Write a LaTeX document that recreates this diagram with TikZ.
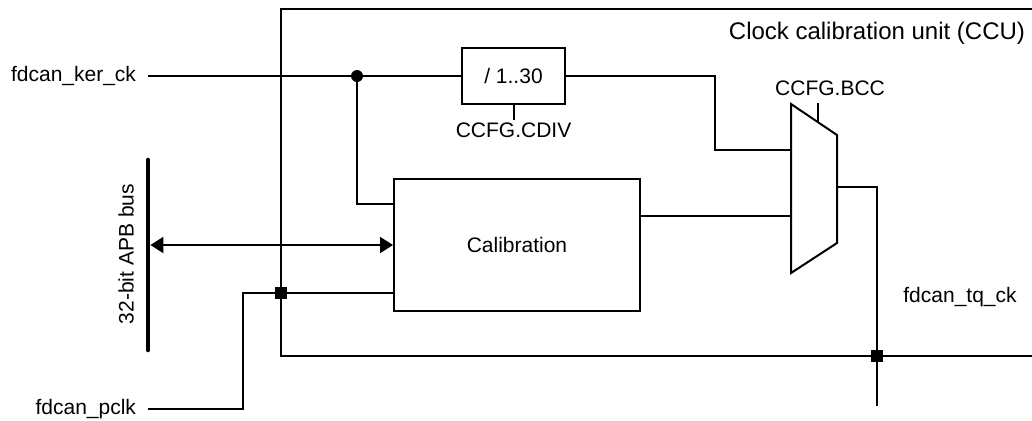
\documentclass[tikz,border=0pt]{standalone}
\usepackage{fontspec}
\setmainfont{Liberation Sans}
\usetikzlibrary{arrows.meta, positioning, calc}

\begin{document}
\begin{tikzpicture}[
        x=0.5pt, y=-0.5pt,
        line width=1pt,
        font=\fontsize{10.5}{12}\selectfont,
        box/.style={rectangle, draw, line width=1pt, inner sep=0pt},
        lbl/.style={inner sep=1pt},
        sig/.style={inner xsep=5.5pt, inner ysep=1pt},
        jdot/.style={circle, fill, inner sep=0pt, minimum size=6pt},
        jsq/.style={rectangle, fill, inner sep=0pt, minimum size=6pt},
        bus/.style={line width=2.3pt, line cap=round},
        both/.style={{Triangle[length=6.5pt, width=8pt]}-{Triangle[length=6.5pt, width=8pt]}}
    ]
        \useasboundingbox (0,0) rectangle (1032,420);

        % frame of the unit
        \draw (1040,9) -| (281,356) -- (1040,356);
        \node[lbl, anchor=east, font=\fontsize{12}{14}\selectfont] (ccu) at (1028,33) {Clock calibration unit (CCU)};

        \node[box, minimum width=51.5pt, minimum height=28pt] (div) at (513.5,76) {/ 1..30};
        \node[box, minimum width=123pt, minimum height=66pt] (cal) at (517,245) {Calibration};
        \node[lbl, below=7.5pt of div] (cdiv) {CCFG.CDIV};
        \draw (div.south) -- (cdiv.north);

        % mux
        \coordinate (mtl) at (791,104);
        \coordinate (mtr) at (837,135);
        \coordinate (mbr) at (837,243);
        \coordinate (mbl) at (791,273);
        \draw (mtl) -- (mtr) -- (mbr) -- (mbl) -- cycle;
        \coordinate (min0) at (791,150);
        \coordinate (min1) at (791,216);
        \coordinate (mout) at (837,187);
        \coordinate (msel) at ($(mtl)!0.587!(mtr)$);
        \node[lbl, anchor=south] (bcc) at (830,99) {CCFG.BCC};
        \draw (msel) -- ++(0,-19);

        % clock inputs
        \node[sig, anchor=east] (ker) at (148,76) {fdcan\_ker\_ck};
        \draw (ker.east) -- (div.west);
        \node[jdot] (kdot) at (357,76) {};
        \draw (kdot.center) |- ($(cal.north west)+(0,26)$);
        \draw (div.east) -- ++(149,0) |- (min0);
        \draw (cal.east |- min1) -- (min1);

        % output
        \coordinate (tqend) at (877,406);
        \draw (mout) -| (tqend);
        \node[jsq] (jtq) at (877,356) {};
        \node (tq) at (960,297) {fdcan\_tq\_ck};

        % bus
        \coordinate (bustop) at (148,160);
        \coordinate (busbot) at (148,350);
        \draw[bus] (bustop) -- (busbot);
        \node[rotate=90] (buslbl) at (126,254) {32-bit APB bus};
        \draw[both] ([xshift=1.2pt]busbot |- cal.west) -- (cal.west);

        % pclk
        \node[sig, anchor=east] (pclk) at (148,409) {fdcan\_pclk};
        \coordinate (pbend) at (243,293);
        \draw (pclk.east) -| (pbend) -- (pbend -| cal.west);
        \node[jsq] (jp) at (281,293) {};
    \end{tikzpicture}
\end{document}
